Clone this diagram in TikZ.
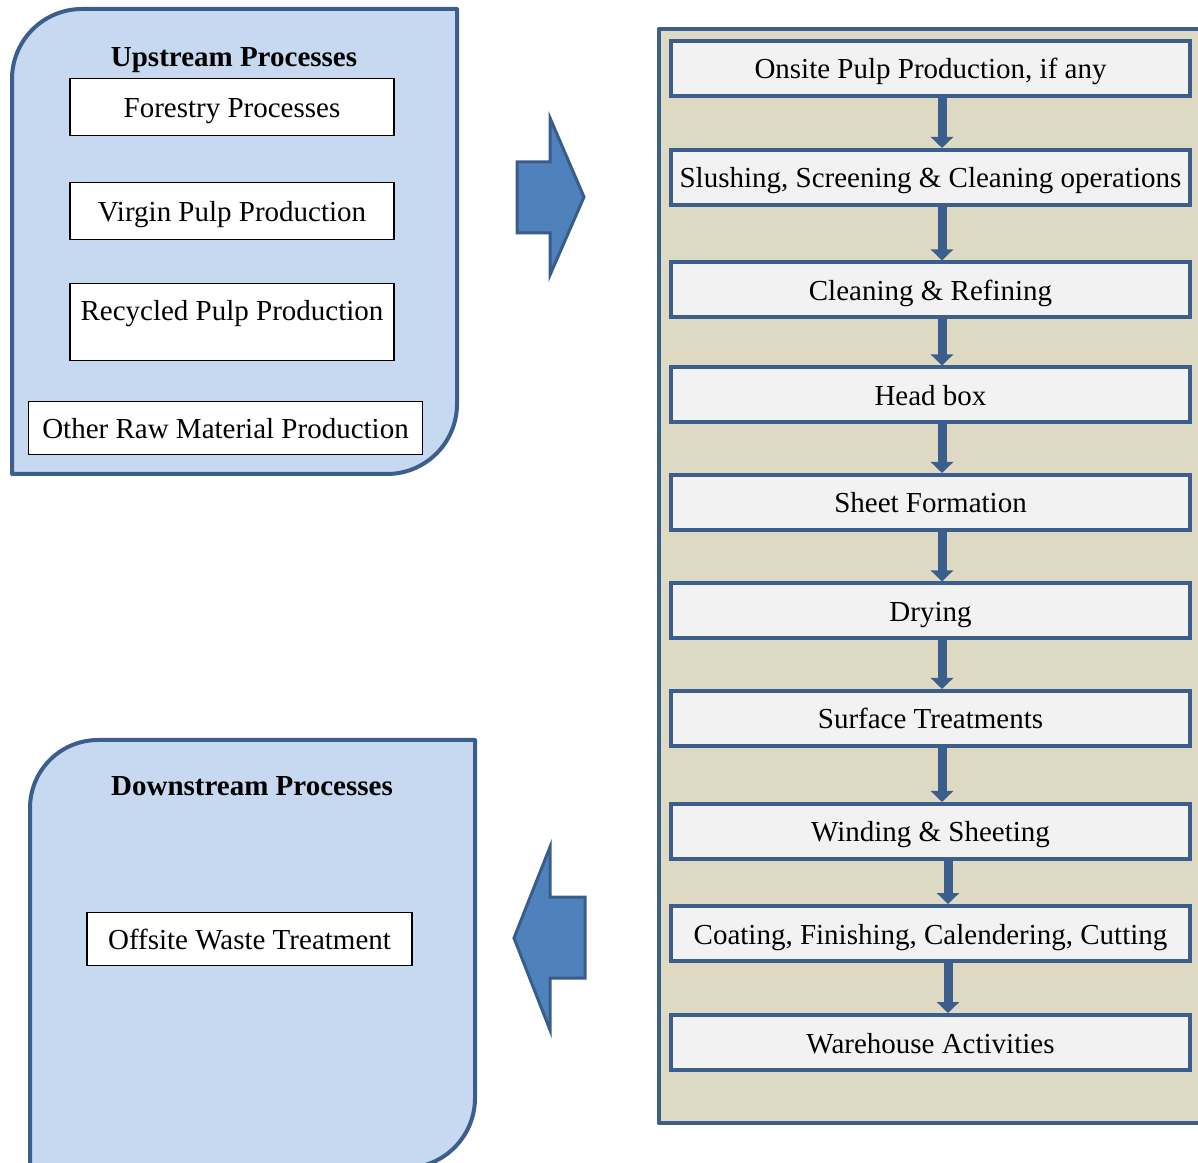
\documentclass[tikz,border=0pt]{standalone}
\usepackage{fontspec}
\setmainfont{Liberation Serif}
\usetikzlibrary{arrows.meta}
\definecolor{panelblue}{HTML}{C6D9F0}
\definecolor{edgeblue}{HTML}{3B5E8C}
\definecolor{panelbeige}{HTML}{DDD9C3}
\definecolor{boxgray}{HTML}{F2F2F2}
\definecolor{arrowblue}{HTML}{4F81BD}
\definecolor{arrowedge}{HTML}{385D8A}
\begin{document}
\begin{tikzpicture}[x=1pt,y=1pt,
  every node/.style={font=\fontsize{29}{34}\selectfont, text height=27pt, text depth=6pt, inner sep=0pt},
  panel/.style={draw=edgeblue, line width=4pt, line join=round},
  wbox/.style={draw=black, line width=1.2pt, fill=white, minimum width=324pt, minimum height=57pt},
  pbox/.style={draw=edgeblue, line width=4pt, fill=boxgray, minimum width=519pt, minimum height=55pt},
  bigarrow/.style={draw=arrowedge, line width=3pt, fill=arrowblue, line join=miter},
  flow/.style={draw=edgeblue, line width=9pt, -{Triangle[width=22pt,length=11pt]}},
  title/.style={font=\fontsize{29}{34}\selectfont\bfseries}
]
\useasboundingbox (0,0) rectangle (1198,1162);
\clip (0,0) rectangle (1198,1162);

% Upstream panel
\path[panel, fill=panelblue] (12,688) -- (12,1083) arc[start angle=180, end angle=90, radius=70] -- (457,1153)
  -- (457,758) arc[start angle=0, end angle=-90, radius=70] -- cycle;
\node[title] (uptitle) at (234,1106) {Upstream Processes};
\node[wbox] (forest) at (232,1055) {Forestry Processes};
\node[wbox] (virgin) at (232,951) {Virgin Pulp Production};
\node[wbox, minimum height=77pt] (recycled) at (232,840) {};
\node (rectext) at (232,852) {Recycled Pulp Production};
\node[wbox, minimum width=394pt, minimum height=53pt] (otherraw) at (225.5,734) {Other Raw Material Production};

% Downstream panel
\path[panel, fill=panelblue] (30,-10) -- (30,354) arc[start angle=180, end angle=90, radius=68] -- (475,422)
  -- (475,64) arc[start angle=0, end angle=-90, radius=70] -- cycle;
\node[title] (downtitle) at (252,377) {Downstream Processes};
\node[wbox, minimum width=325pt, minimum height=53pt] (offsite) at (249.5,223) {Offsite Waste Treatment};

% Big arrows
\path[bigarrow] (517,1000) -- (550,1000) -- (550,1044) -- (584,965) -- (550,887) -- (550,929) -- (517,929) -- cycle;
\path[bigarrow] (585,265) -- (550,265) -- (550,315) -- (514,224) -- (550,132) -- (550,184) -- (585,184) -- cycle;

% Right panel
\path[panel, fill=panelbeige] (659,39) rectangle (1215,1133);

\node[pbox] (b1) at (930.5,1093.5) {Onsite Pulp Production, if any};
\node[pbox] (b2) at (930.5,984.5) {Slushing, Screening \& Cleaning operations};
\node[pbox] (b3) at (930.5,872) {Cleaning \& Refining};
\node[pbox] (b4) at (930.5,767) {Head box};
\node[pbox] (b5) at (930.5,659.5) {Sheet Formation};
\node[pbox] (b6) at (930.5,551) {Drying};
\node[pbox] (b7) at (930.5,443.5) {Surface Treatments};
\node[pbox] (b8) at (930.5,330.5) {Winding \& Sheeting};
\node[pbox] (b9) at (930.5,228.5) {Coating, Finishing, Calendering, Cutting};
\node[pbox] (b10) at (930.5,119.5) {Warehouse Activities};

\coordinate (ax1) at (942,0);
\coordinate (ax2) at (948,0);
\draw[flow] (b1.south -| ax1) -- (b2.north -| ax1);
\draw[flow] (b2.south -| ax1) -- (b3.north -| ax1);
\draw[flow] (b3.south -| ax1) -- (b4.north -| ax1);
\draw[flow] (b4.south -| ax1) -- (b5.north -| ax1);
\draw[flow] (b5.south -| ax1) -- (b6.north -| ax1);
\draw[flow] (b6.south -| ax1) -- (b7.north -| ax1);
\draw[flow] (b7.south -| ax1) -- (b8.north -| ax1);
\draw[flow] (b8.south -| ax2) -- (b9.north -| ax2);
\draw[flow] (b9.south -| ax2) -- (b10.north -| ax2);
\end{tikzpicture}
\end{document}
